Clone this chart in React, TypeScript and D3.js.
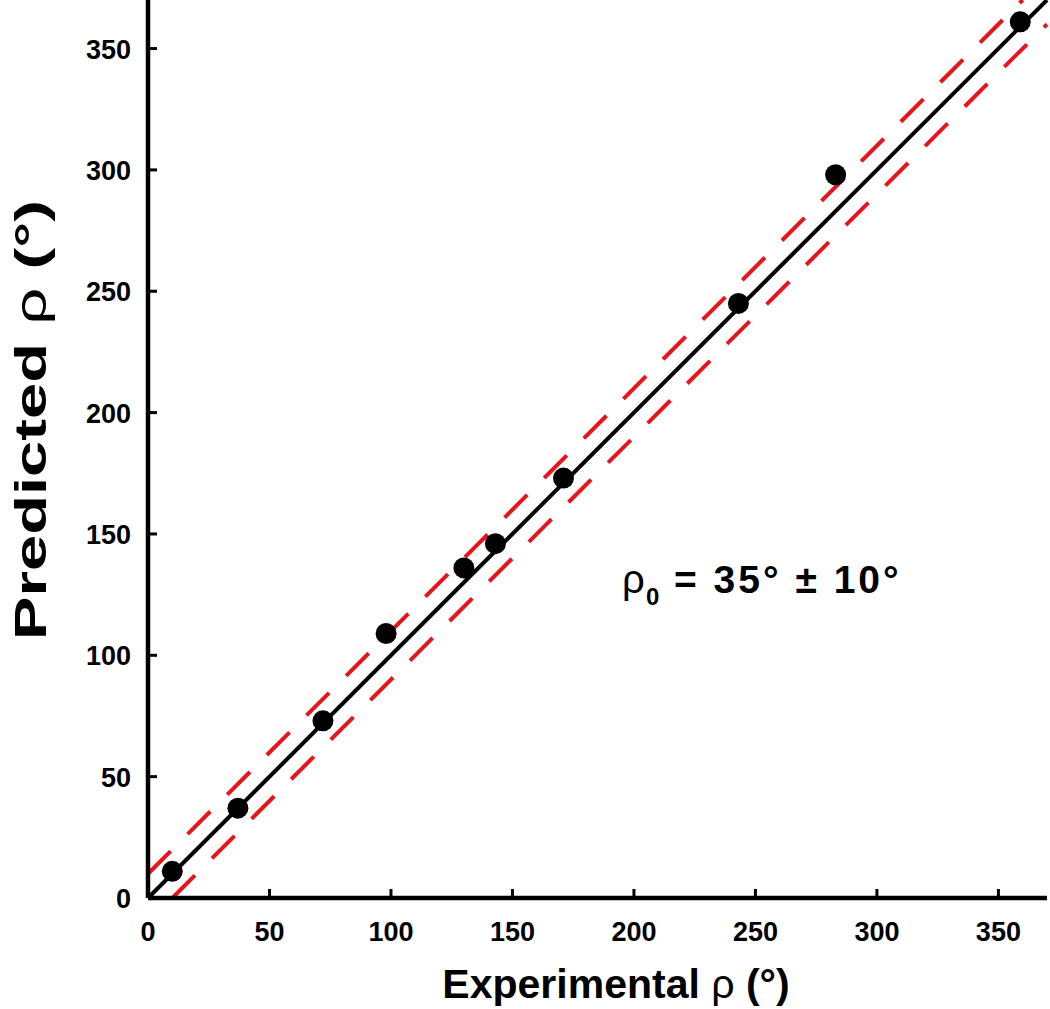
import { line, scaleLinear } from 'd3'

const WIDTH = 1050
const HEIGHT = 1009

const experimental = [10, 37, 72, 98, 130, 143, 171, 243, 283, 359]
const predicted = [11, 37, 73, 109, 136, 146, 173, 245, 298, 361]
const tickValues = [0, 50, 100, 150, 200, 250, 300, 350]
const fitLine = [0, 370]
const bandOffset = 10
const axisMax = 370

const FONT = "'Liberation Sans', Arial, sans-serif"

export default function App() {
  const x = scaleLinear().domain([0, axisMax]).range([148, 1047])
  const y = scaleLinear().domain([0, axisMax]).range([898, 0])

  const diag = line<[number, number]>()
    .x((d) => x(d[0]))
    .y((d) => y(d[1]))

  const center = diag(fitLine.map((v) => [v, v] as [number, number])) ?? ''
  const upper = diag([
    [0, bandOffset],
    [axisMax - bandOffset, axisMax],
  ]) ?? ''
  const lower = diag([
    [bandOffset, 0],
    [axisMax, axisMax - bandOffset],
  ]) ?? ''

  const points = experimental.map((e, i) => ({ e, p: predicted[i] }))

  return (
    <svg
      width={WIDTH}
      height={HEIGHT}
      style={{ position: 'absolute', left: 0, top: 0, background: '#fff' }}
      fontFamily={FONT}
    >
      <path d={upper} stroke="#e8141c" strokeWidth={4} strokeDasharray="32 24" fill="none" />
      <path d={lower} stroke="#e8141c" strokeWidth={4} strokeDasharray="32 24" fill="none" />
      <path d={center} stroke="#000" strokeWidth={4} fill="none" />

      {points.map((d, i) => (
        <circle key={i} cx={x(d.e)} cy={y(d.p)} r={10.5} fill="#000" />
      ))}

      {/* axes */}
      <line x1={x(0)} x2={x(axisMax)} y1={y(0)} y2={y(0)} stroke="#000" strokeWidth={4.5} />
      <line x1={x(0)} x2={x(0)} y1={y(0)} y2={y(axisMax)} stroke="#000" strokeWidth={4.5} />
      {tickValues.slice(1).map((t) => (
        <g key={`xt${t}`}>
          <line x1={x(t)} x2={x(t)} y1={y(0)} y2={y(0) - 9} stroke="#000" strokeWidth={3} />
          <line x1={x(0)} x2={x(0) + 9} y1={y(t)} y2={y(t)} stroke="#000" strokeWidth={3} />
        </g>
      ))}
      {tickValues.map((t) => (
        <g key={`xl${t}`} fontWeight="bold" fontSize={27}>
          <text x={x(t)} y={941} textAnchor="middle">
            {t}
          </text>
          <text x={131} y={y(t) + 10} textAnchor="end">
            {t}
          </text>
        </g>
      ))}

      <text x={616} y={998} textAnchor="middle" fontSize={41} fontWeight="bold">
        Experimental <tspan fontWeight="normal">ρ</tspan> (°)
      </text>
      <text
        transform="translate(46, 420) rotate(-90)"
        textAnchor="middle"
        fontSize={44}
        fontWeight="bold"
        textLength={440}
        lengthAdjust="spacingAndGlyphs"
      >
        Predicted <tspan fontWeight="normal">ρ</tspan> (°)
      </text>

      <text x={622} y={593} fontSize={40}>
        ρ
      </text>
      <text x={646} y={605} fontSize={24} fontWeight="bold">
        0
      </text>
      <text x={674} y={593} fontSize={39} fontWeight="bold" letterSpacing={3}>
        = 35° ± 10°
      </text>
    </svg>
  )
}
